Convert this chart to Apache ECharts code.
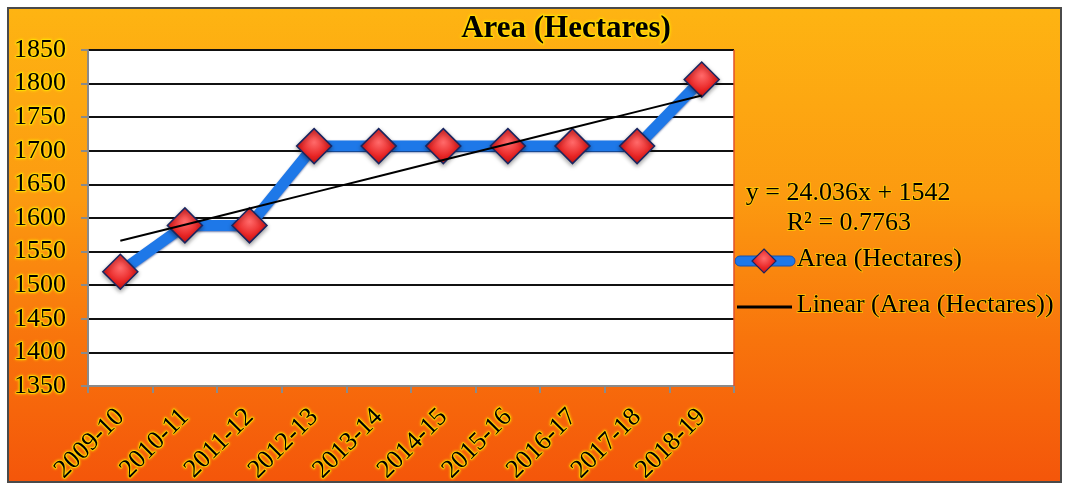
<!DOCTYPE html>
<html>
<head>
<meta charset="utf-8">
<script src="https://cdn.jsdelivr.net/npm/echarts@6/dist/echarts.min.js"></script>
<style>
  html, body { margin: 0; padding: 0; background: #fff; }
  #frame {
    position: absolute; left: 7px; top: 7px; width: 1051px; height: 472px;
    border: 2px solid #4a4a4a;
    background: linear-gradient(to bottom, #FEB412 0%, #FC9A10 40%, #F8740C 70%, #F4560A 100%);
  }
  #chart { position: absolute; left: 0; top: 0; width: 1065px; height: 488px; }
</style>
</head>
<body>
<div id="frame"></div>
<div id="chart"></div>
<script>
// Crop area by year
const years = ['2009-10', '2010-11', '2011-12', '2012-13', '2013-14', '2014-15', '2015-16', '2016-17', '2017-18', '2018-19'];
const area = [1520, 1589, 1589, 1707, 1707, 1707, 1707, 1707, 1707, 1806];
// Linear trend coefficients (x = 1..n)
const trendSlope = 24.036;
const trendIntercept = 1542;
const r2 = 0.7763;
const yTicks = { min: 1350, max: 1850, step: 50 };
const seriesName = 'Area (Hectares)';
const trendName = 'Linear (Area (Hectares))';

const trend = years.map((_, i) => +(trendIntercept + trendSlope * (i + 1)).toFixed(2));

const serif = '"Liberation Serif", "Times New Roman", serif';
const glow = { textShadowColor: '#FFE800', textShadowBlur: 3, textBorderColor: 'rgba(255,226,0,0.7)', textBorderWidth: 1.5 };
const glowG = { shadowColor: '#FFE800', shadowBlur: 3, stroke: 'rgba(255,226,0,0.7)', lineWidth: 1.5 };

const markerFill = new echarts.graphic.RadialGradient(0.5, 0.4, 0.7, [
  { offset: 0, color: '#FF6A6A' }, { offset: 0.55, color: '#E82424' }, { offset: 1, color: '#B00E0E' }
]);

const chart = echarts.init(document.getElementById('chart'), null, { renderer: 'canvas' });
chart.setOption({
  backgroundColor: 'transparent',
  animation: false,
  title: {
    text: seriesName,
    left: 561, top: 8, textAlign: 'center',
    textStyle: Object.assign({ fontFamily: serif, fontSize: 31, fontWeight: 'bold', color: '#000' }, glow)
  },
  grid: {
    left: 88, right: 331, top: 50, bottom: 102,
    show: true, backgroundColor: '#fff', borderWidth: 0
  },
  xAxis: {
    type: 'category', data: years, boundaryGap: true,
    axisLine: { lineStyle: { color: '#8a8a8a', width: 2 } },
    axisTick: { show: true, length: 7, lineStyle: { color: '#8a8a8a', width: 2 } },
    axisLabel: Object.assign({
      rotate: 45, interval: 0, margin: 27,
      fontFamily: serif, fontSize: 26, color: '#000'
    }, glow)
  },
  yAxis: {
    type: 'value', min: yTicks.min, max: yTicks.max, interval: yTicks.step,
    axisLine: { show: true, lineStyle: { color: '#8a8a8a', width: 2 } },
    axisTick: { show: true, length: 7, lineStyle: { color: '#8a8a8a', width: 2 } },
    splitLine: { lineStyle: { color: '#111', width: 2 } },
    axisLabel: Object.assign({ margin: 22, fontFamily: serif, fontSize: 26, color: '#000', formatter: v => String(v) }, glow)
  },
  graphic: [
    // trend equation
    { type: 'text', left: 745, top: 179,
      style: Object.assign({ text: 'y = ' + trendSlope.toFixed(3) + 'x + ' + trendIntercept, font: '26px ' + serif, fill: '#000' }, glowG) },
    { type: 'text', left: 786, top: 209,
      style: Object.assign({ text: 'R² = ' + r2, font: '26px ' + serif, fill: '#000' }, glowG) },
    // legend: data series
    { type: 'rect', shape: { x: 735, y: 256, width: 60, height: 10, r: 5 },
      style: { fill: '#1E78E8', stroke: '#1450B0', lineWidth: 1 } },
    { type: 'polygon', shape: { points: [[764, 249], [776, 261], [764, 273], [752, 261]] },
      style: { fill: markerFill, stroke: '#1A2660', lineWidth: 1.2 } },
    { type: 'text', left: 796, top: 245,
      style: Object.assign({ text: seriesName, font: '26px ' + serif, fill: '#000' }, glowG) },
    // legend: trend line
    { type: 'line', shape: { x1: 737, y1: 307, x2: 792, y2: 307 }, style: { stroke: '#000', lineWidth: 3 } },
    { type: 'text', left: 796, top: 291,
      style: Object.assign({ text: trendName, font: '26px ' + serif, fill: '#000' }, glowG) },
    // right edge of the plot area
    { type: 'line', shape: { x1: 734, y1: 50, x2: 734, y2: 386 }, style: { stroke: '#E0502A', lineWidth: 1.5 }, z: 5 }
  ],
  series: [
    {
      name: seriesName, type: 'line', data: area,
      z: 3,
      lineStyle: { color: '#1E78E8', width: 11, shadowColor: 'rgba(10,40,120,0.6)', shadowBlur: 2, shadowOffsetY: 1 },
      itemStyle: {
        color: markerFill,
        borderColor: '#1A2660', borderWidth: 1.5,
        shadowColor: 'rgba(0,0,0,0.35)', shadowBlur: 4, shadowOffsetY: 2
      },
      symbol: 'diamond', symbolSize: 35, showAllSymbol: true
    },
    {
      name: trendName, type: 'line', data: trend,
      z: 4, symbol: 'none',
      lineStyle: { color: '#000', width: 2 }
    }
  ]
});
</script>
</body>
</html>
